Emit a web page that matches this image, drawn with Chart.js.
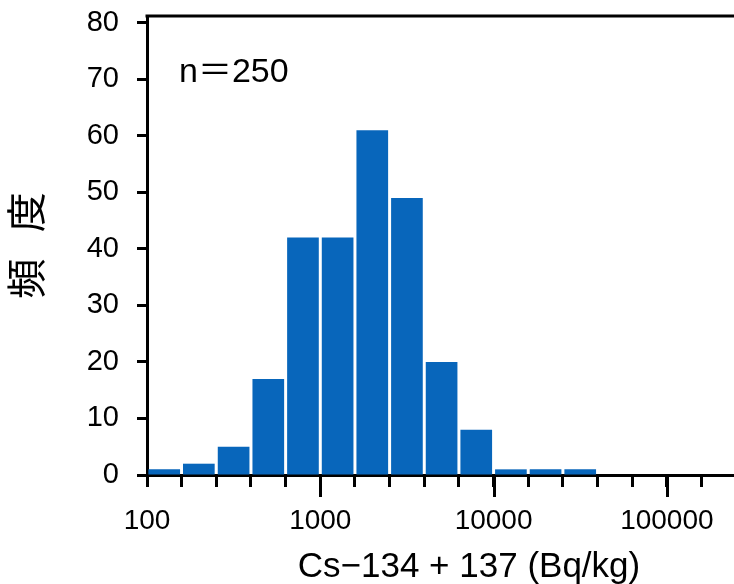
<!DOCTYPE html>
<html>
<head>
<meta charset="utf-8">
<script src="https://cdn.jsdelivr.net/npm/chart.js@4"></script>
<style>
  body { margin: 0; background: #fff; }
  #wrap { width: 734px; height: 584px; }
</style>
</head>
<body>
<div id="wrap"><canvas id="hist"></canvas></div>
<script>
// bin edges in Bq/kg, 1/5 decade wide
const binEdges = [100, 158, 251, 398, 631, 1000, 1585, 2512, 3981, 6310, 10000, 15849, 25119, 39811];
const counts = [1, 2, 5, 17, 42, 42, 61, 49, 20, 8, 1, 1, 1];
const xTicks = [100, 158, 251, 398, 631, 1000, 1585, 2512, 3981, 6310, 10000, 15849, 25119, 39811, 63096, 100000, 158489];
const xLabels = [100, 1000, 10000, 100000];
const longTicks = [1000, 10000, 100000];
const yTicks = [0, 10, 20, 30, 40, 50, 60, 70, 80];
const total = 250;

// bar centre = geometric middle of the bin
const bars = counts.map((c, i) => ({ x: Math.sqrt(binEdges[i] * binEdges[i + 1]), y: c }));

const extras = {
  id: 'extras',
  afterDraw(chart) {
    const { ctx, chartArea } = chart;
    const xs = chart.scales.x;
    ctx.save();
    ctx.strokeStyle = '#000';
    ctx.lineWidth = 3;
    ctx.beginPath();
    ctx.moveTo(chartArea.left - 1.5, chartArea.top);
    ctx.lineTo(chartArea.right, chartArea.top);
    longTicks.forEach(v => {
      const px = Math.round(xs.getPixelForValue(v)) + 0.5;
      ctx.moveTo(px, chartArea.bottom);
      ctx.lineTo(px, chartArea.bottom + 22);
    });
    ctx.stroke();

    ctx.fillStyle = '#000';
    ctx.textBaseline = 'alphabetic';
    ctx.font = '34px "Liberation Sans", "Noto Sans CJK JP"';
    ctx.fillText('n＝' + total, chartArea.left + 32, 82);

    ctx.font = '35px "Liberation Sans", "Noto Sans CJK JP"';
    ctx.textAlign = 'center';
    ctx.fillText('Cs−134 + 137 (Bq/kg)', 469, 577);
    ctx.restore();
  }
};

new Chart(document.getElementById('hist'), {
  type: 'bar',
  data: {
    datasets: [{
      data: bars,
      backgroundColor: '#0866BB',
      borderWidth: 0,
      barPercentage: 0.92,
      categoryPercentage: 1
    }]
  },
  options: {
    responsive: true,
    maintainAspectRatio: false,
    animation: false,
    layout: { padding: { top: 16, left: 0, right: 0, bottom: 0 } },
    plugins: { legend: { display: false }, tooltip: { enabled: false } },
    scales: {
      x: {
        type: 'logarithmic',
        min: 100,
        max: 244000,
        offset: false,
        z: 1,
        afterBuildTicks: s => { s.ticks = xTicks.map(v => ({ value: v })); },
        afterFit: s => { s.height = 109; s.paddingLeft = 0; s.paddingRight = 0; },
        grid: { drawOnChartArea: false, offset: false, tickLength: 12, tickWidth: 3, tickColor: '#000' },
        border: { color: '#000', width: 3 },
        ticks: {
          autoSkip: false,
          maxRotation: 0,
          color: '#000',
          padding: 17,
          font: { family: '"Liberation Sans"', size: 28 },
          callback: v => xLabels.includes(v) ? String(v) : ''
        }
      },
      y: {
        min: 0,
        max: 81.2,
        z: 1,
        afterBuildTicks: s => { s.ticks = yTicks.map(v => ({ value: v })); },
        afterFit: s => { s.width = 147; s.paddingTop = 0; s.paddingBottom = 0; },
        grid: { drawOnChartArea: false, tickLength: 10, tickWidth: 3, tickColor: '#000' },
        border: { color: '#000', width: 3 },
        ticks: {
          color: '#000',
          padding: 18,
          font: { family: '"Liberation Sans"', size: 29 }
        },
        title: {
          display: true,
          text: '頻\u2002\u2006度',
          color: '#000',
          font: { family: '"Noto Sans CJK JP"', size: 40 },
          padding: { top: 2, bottom: 0 }
        }
      }
    }
  },
  plugins: [extras]
});
</script>
</body>
</html>
